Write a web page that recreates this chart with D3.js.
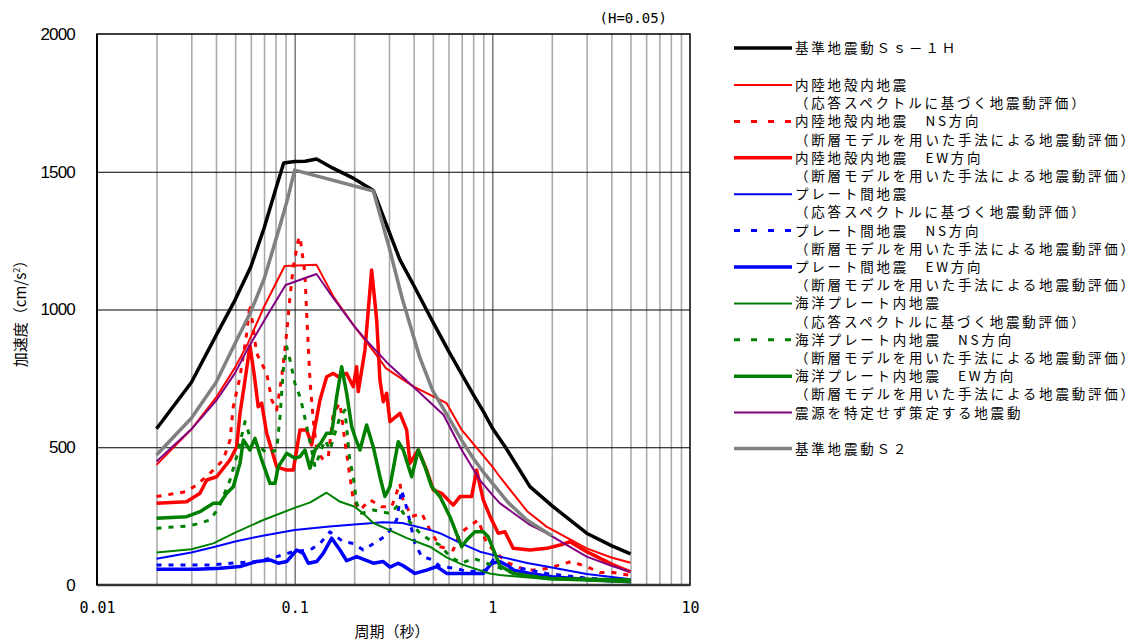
<!DOCTYPE html>
<html>
<head>
<meta charset="utf-8">
<script src="https://cdn.jsdelivr.net/npm/d3@7"></script>
<style>
body { margin: 0; background: #fff; }
svg { display: block; }
</style>
</head>
<body>
<script>
// period (s) / acceleration (cm/s2) pairs
var ss1h = [[0.02,567],[0.03,735],[0.04,905],[0.05,1035],[0.06,1155],[0.07,1295],[0.08,1435],[0.088,1532],[0.1,1537],[0.113,1538],[0.129,1546],[0.157,1512],[0.2,1475],[0.25,1432],[0.3,1284],[0.34,1182],[0.4,1088],[0.5,955],[0.6,850],[0.7,765],[0.8,692],[0.9,630],[1.0,570],[1.16,502],[1.55,357],[2,288],[3,188],[4,143],[5,113]];
var inlandSpec = [[0.02,436],[0.03,565],[0.04,680],[0.05,790],[0.058,877],[0.07,1010],[0.089,1158],[0.129,1162],[0.157,1047],[0.2,940],[0.25,850],[0.29,786],[0.4,720],[0.587,660],[0.7,563],[0.865,484],[1.0,430],[1.09,393],[1.5,268],[1.88,212],[3,133],[4,100],[5,81]];
var inlandNS = [[0.02,321],[0.0284,339],[0.0319,363],[0.0388,417],[0.0435,454],[0.0471,526],[0.0489,647],[0.0529,756],[0.0572,914],[0.0594,1020],[0.0642,841],[0.0722,768],[0.0765,672],[0.0811,635],[0.086,756],[0.0911,914],[0.0947,1046],[0.0984,1155],[0.1043,1252],[0.1064,1264],[0.1127,1131],[0.115,986],[0.1172,865],[0.1195,744],[0.1242,599],[0.1292,490],[0.1395,454],[0.1479,466],[0.1568,623],[0.1695,660],[0.1796,520],[0.1904,393],[0.1979,309],[0.2139,272],[0.2403,309],[0.2754,284],[0.3095,284],[0.3409,369],[0.3477,321],[0.3907,248],[0.439,260],[0.4834,200],[0.5433,139],[0.6344,127],[0.6857,188],[0.8486,236],[0.9358,151],[1.05,115],[1.2,80],[1.4,61],[1.6,54],[1.9,60],[2.2,73],[2.5,85],[3.0,67],[3.5,45],[4.1,45],[5,35]];
var inlandEW = [[0.02,297],[0.0284,302],[0.0332,333],[0.0359,381],[0.0403,393],[0.0471,454],[0.0509,502],[0.0529,623],[0.0561,744],[0.0594,868],[0.0625,760],[0.0654,647],[0.0681,660],[0.0722,551],[0.0811,429],[0.0911,417],[0.0984,417],[0.1064,563],[0.115,563],[0.1219,508],[0.1343,672],[0.1452,756],[0.1568,768],[0.1661,756],[0.1832,768],[0.1979,720],[0.2058,792],[0.2097,702],[0.2268,853],[0.2451,1143],[0.26,962],[0.27,744],[0.2806,665],[0.2919,696],[0.3034,593],[0.3409,623],[0.3686,563],[0.383,442],[0.4219,490],[0.4653,417],[0.5025,345],[0.554,333],[0.6344,290],[0.6857,321],[0.7856,321],[0.8329,417],[0.8995,309],[0.9725,250],[1.0515,200],[1.0713,188],[1.158,193],[1.2755,133],[1.55,127],[1.883,133],[2.198,145],[2.47,157],[3.0,121],[4.088,73],[5,48]];
var plateSpec = [[0.02,95],[0.03,118],[0.04,140],[0.05,158],[0.07,180],[0.1,200],[0.15,212],[0.2,220],[0.28,228],[0.35,225],[0.483,200],[0.543,188],[0.7,150],[0.865,121],[1.09,103],[1.5,80],[1.88,67],[3,40],[5,21]];
var plateNS = [[0.02,73],[0.0388,73],[0.0471,79],[0.0642,85],[0.0811,103],[0.0984,121],[0.1195,127],[0.1343,151],[0.1509,193],[0.1761,157],[0.1979,151],[0.2223,127],[0.2598,157],[0.2919,181],[0.328,236],[0.3477,345],[0.3686,280],[0.406,151],[0.439,103],[0.5025,91],[0.5433,67],[0.6471,61],[0.7551,48],[0.9358,54],[1.01,91],[1.135,54],[1.379,61],[1.88,42],[3,25],[5,15]];
var plateEW = [[0.02,57],[0.0319,57],[0.0419,61],[0.0529,67],[0.0642,85],[0.075,91],[0.0826,79],[0.0911,85],[0.1024,127],[0.1105,115],[0.1172,79],[0.1292,85],[0.1395,115],[0.1539,170],[0.1695,127],[0.1832,88],[0.2058,103],[0.25,79],[0.2806,85],[0.3034,65],[0.3342,79],[0.3542,70],[0.406,42],[0.4653,54],[0.5228,67],[0.5873,42],[0.7413,42],[0.8995,42],[0.992,79],[1.09,85],[1.2,70],[1.28,54],[1.55,42],[2,30],[3,20],[5,12]];
var slabSpec = [[0.02,118],[0.03,130],[0.0388,151],[0.05,190],[0.0694,236],[0.0984,278],[0.12,300],[0.145,335],[0.17,302],[0.2,285],[0.222,260],[0.25,225],[0.3,200],[0.37,170],[0.483,139],[0.587,100],[0.7,75],[0.97,42],[1.09,36],[2,20],[5,10]];
var slabNS = [[0.02,206],[0.0284,214],[0.0319,221],[0.0373,236],[0.0411,278],[0.0471,381],[0.0509,466],[0.0561,593],[0.0594,538],[0.0667,502],[0.0722,478],[0.0811,490],[0.0843,611],[0.0876,781],[0.0911,865],[0.0947,817],[0.1003,732],[0.1064,683],[0.1105,635],[0.115,575],[0.1219,490],[0.1267,429],[0.1343,478],[0.1423,526],[0.1509,490],[0.1599,551],[0.1695,610],[0.1796,635],[0.19,454],[0.198,393],[0.2058,297],[0.2182,260],[0.25,272],[0.3034,260],[0.3342,290],[0.3686,242],[0.4304,188],[0.4834,163],[0.5433,145],[0.61,103],[0.6995,79],[0.8004,97],[0.9358,79],[1.05,67],[1.3,40],[2,25],[5,12]];
var slabEW = [[0.02,242],[0.0284,248],[0.0332,266],[0.0388,297],[0.0419,297],[0.0453,333],[0.0489,357],[0.0529,442],[0.055,526],[0.0594,490],[0.063,532],[0.0681,454],[0.075,369],[0.0795,369],[0.0826,429],[0.0911,478],[0.1003,460],[0.1064,466],[0.1127,490],[0.1195,424],[0.1267,490],[0.137,520],[0.1452,551],[0.1539,551],[0.1631,683],[0.1729,792],[0.1832,696],[0.1942,575],[0.2018,538],[0.2139,490],[0.2313,581],[0.2497,502],[0.27,393],[0.2862,321],[0.3034,357],[0.3342,520],[0.3542,490],[0.3907,393],[0.4219,490],[0.4562,429],[0.4932,357],[0.5433,321],[0.6103,248],[0.6995,139],[0.7413,163],[0.8166,193],[0.8995,193],[0.9535,175],[1.01,130],[1.05,100],[1.09,70],[1.28,42],[1.88,24],[5,18]];
var unspecified = [[0.02,448],[0.03,565],[0.04,668],[0.05,770],[0.058,859],[0.072,974],[0.09,1089],[0.129,1129],[0.157,1041],[0.2,940],[0.23,889],[0.3,800],[0.415,708],[0.567,617],[0.7,490],[0.865,381],[1.0,327],[1.09,297],[1.55,218],[1.88,188],[3,103],[4,70],[5,48]];
var s2 = [[0.02,472],[0.03,605],[0.04,735],[0.049,865],[0.06,992],[0.07,1110],[0.085,1313],[0.092,1400],[0.1,1506],[0.25,1430],[0.3,1228],[0.35,1040],[0.4,900],[0.43,825],[0.5,705],[0.61,600],[0.7,525],[0.8,460],[0.9,410],[1.0,370],[1.2,300],[1.5,235],[2.0,179]];

var xTicks = [0.01, 0.1, 1, 10];
var xTickLabels = ["0.01", "0.1", "1", "10"];
var yTicks = [0, 500, 1000, 1500, 2000];

var series = [
	{name: "基準地震動Ｓｓ－１Ｈ", data: ss1h, color: "#000000", w: 3.5, dash: null, legY: 48},
	{name: "内陸地殻内地震", sub: "（応答スペクトルに基づく地震動評価）", data: inlandSpec, color: "#ff0000", w: 2, dash: null, legY: 85},
	{name: "内陸地殻内地震　NS方向", sub: "（断層モデルを用いた手法による地震動評価）", data: inlandNS, color: "#ff0000", w: 3, dash: "5,7", legY: 121.4},
	{name: "内陸地殻内地震　EW方向", sub: "（断層モデルを用いた手法による地震動評価）", data: inlandEW, color: "#ff0000", w: 3.5, dash: null, legY: 157.8},
	{name: "プレート間地震", sub: "（応答スペクトルに基づく地震動評価）", data: plateSpec, color: "#0000ff", w: 2, dash: null, legY: 194.2},
	{name: "プレート間地震　NS方向", sub: "（断層モデルを用いた手法による地震動評価）", data: plateNS, color: "#0000ff", w: 3, dash: "5,7", legY: 230.6},
	{name: "プレート間地震　EW方向", sub: "（断層モデルを用いた手法による地震動評価）", data: plateEW, color: "#0000ff", w: 3.5, dash: null, legY: 267},
	{name: "海洋プレート内地震", sub: "（応答スペクトルに基づく地震動評価）", data: slabSpec, color: "#008000", w: 2, dash: null, legY: 303.4},
	{name: "海洋プレート内地震　NS方向", sub: "（断層モデルを用いた手法による地震動評価）", data: slabNS, color: "#008000", w: 3, dash: "5,7", legY: 339.8},
	{name: "海洋プレート内地震　EW方向", sub: "（断層モデルを用いた手法による地震動評価）", data: slabEW, color: "#008000", w: 3.5, dash: null, legY: 376.2},
	{name: "震源を特定せず策定する地震動", data: unspecified, color: "#800080", w: 2, dash: null, legY: 412.6},
	{name: "基準地震動Ｓ２", data: s2, color: "#808080", w: 3.5, dash: null, legY: 448.5}
];

var width = 1136;
var height = 643;
var padL = 97, padR = 690, padT = 34, padB = 585;
var font = "'Noto Sans CJK JP', sans-serif";

var svg = d3.select("body")
			.append("svg")
			.attr("width", width)
			.attr("height", height);

var x = d3.scaleLog().domain([0.01, 10]).range([padL, padR]);
var y = d3.scaleLinear().domain([0, 2000]).range([padB, padT]);

// minor vertical grid
var minor = [];
[0.01, 0.1, 1].forEach(function(d) {
	for (var k = 2; k <= 9; k++) minor.push(d * k);
});
svg.append("g")
	.attr("transform", "translate(0," + padB + ")")
	.call(d3.axisBottom(x).tickValues(minor).tickSize(-(padB - padT)).tickFormat(""))
	.call(function(g) { g.select(".domain").remove(); })
	.selectAll("line")
	.attr("stroke", "#ababab")
	.attr("stroke-width", 1.6);

// major vertical grid
svg.append("g")
	.attr("transform", "translate(0," + padB + ")")
	.call(d3.axisBottom(x).tickValues([0.1, 1]).tickSize(-(padB - padT)).tickFormat(""))
	.call(function(g) { g.select(".domain").remove(); })
	.selectAll("line")
	.attr("stroke", "#555")
	.attr("stroke-width", 1.2);

// horizontal grid
svg.append("g")
	.attr("transform", "translate(" + padL + ",0)")
	.call(d3.axisLeft(y).tickValues([500, 1000, 1500]).tickSize(-(padR - padL)).tickFormat(""))
	.call(function(g) { g.select(".domain").remove(); })
	.selectAll("line")
	.attr("stroke", "#000")
	.attr("stroke-width", 1.1);

// plot frame
svg.append("rect")
	.attr("x", padL)
	.attr("y", padT)
	.attr("width", padR - padL)
	.attr("height", padB - padT)
	.attr("fill", "none")
	.attr("stroke", "#000")
	.attr("stroke-width", 1.5);

// curves
var line = d3.line()
			.x(function(d) { return x(d[0]); })
			.y(function(d) { return y(d[1]); });

var plot = svg.append("g");
plot.selectAll("path")
	.data(series)
	.enter()
	.append("path")
	.attr("d", function(d) { return line(d.data); })
	.attr("fill", "none")
	.attr("stroke", function(d) { return d.color; })
	.attr("stroke-width", function(d) { return d.w; })
	.attr("stroke-dasharray", function(d) { return d.dash; })
	.attr("stroke-linejoin", "round");

svg.append("line")
	.attr("x1", padL).attr("x2", padR)
	.attr("y1", padB).attr("y2", padB)
	.attr("stroke", "#333").attr("stroke-width", 2.5);
svg.append("line")
	.attr("x1", padL).attr("x2", padL)
	.attr("y1", padT).attr("y2", padB)
	.attr("stroke", "#000").attr("stroke-width", 2);

// axis labels
var xAxis = svg.append("g")
	.attr("transform", "translate(0," + padB + ")")
	.call(d3.axisBottom(x).tickValues(xTicks).tickSize(0).tickPadding(17)
		.tickFormat(function(d, i) { return xTickLabels[i]; }));
xAxis.select(".domain").remove();
xAxis.selectAll("text")
	.attr("font-family", "'DejaVu Sans Mono', monospace")
	.attr("font-size", 15)
	.attr("fill", "#000");

var yAxis = svg.append("g")
	.attr("transform", "translate(" + padL + ",0)")
	.call(d3.axisLeft(y).tickValues(yTicks).tickSize(0).tickPadding(22).tickFormat(d3.format("d")));
yAxis.select(".domain").remove();
yAxis.selectAll("text")
	.attr("font-family", "'Liberation Sans', Arial, sans-serif")
	.attr("font-size", 17)
	.attr("letter-spacing", -0.8)
	.attr("fill", "#000");

svg.append("text")
	.attr("x", 392)
	.attr("y", 637)
	.attr("text-anchor", "middle")
	.attr("font-family", font)
	.attr("font-size", 15)
	.text("周期（秒）");

var yTitle = svg.append("text")
	.attr("transform", "translate(26," + 310 + ") rotate(-90)")
	.attr("text-anchor", "middle")
	.attr("font-family", font)
	.attr("font-size", 15);
yTitle.append("tspan").text("加速度（cm/s");
yTitle.append("tspan").attr("font-size", 9).attr("dy", -6).text("2");
yTitle.append("tspan").attr("dy", 6).text("）");

svg.append("text")
	.attr("x", 667)
	.attr("y", 23)
	.attr("text-anchor", "end")
	.attr("font-family", "'DejaVu Sans Mono', monospace")
	.attr("font-size", 14)
	.text("(H=0.05)");

// legend
var leg = svg.append("g");
var items = leg.selectAll("g")
	.data(series)
	.enter()
	.append("g")
	.attr("transform", function(d) { return "translate(0," + d.legY + ")"; });
items.append("line")
	.attr("x1", 734).attr("x2", 792)
	.attr("y1", 0).attr("y2", 0)
	.attr("stroke", function(d) { return d.color; })
	.attr("stroke-width", function(d) { return d.w; })
	.attr("stroke-dasharray", function(d) { return d.dash ? "6,11" : null; });
items.append("text")
	.attr("x", 795)
	.attr("y", 5)
	.attr("font-family", font)
	.attr("font-size", 13.5)
	.attr("letter-spacing", 2.8)
	.text(function(d) { return d.name; });
items.filter(function(d) { return d.sub; })
	.append("text")
	.attr("x", 795)
	.attr("y", 23.2)
	.attr("font-family", font)
	.attr("font-size", 13.5)
	.attr("letter-spacing", 2.8)
	.text(function(d) { return d.sub; });
</script>
</body>
</html>
